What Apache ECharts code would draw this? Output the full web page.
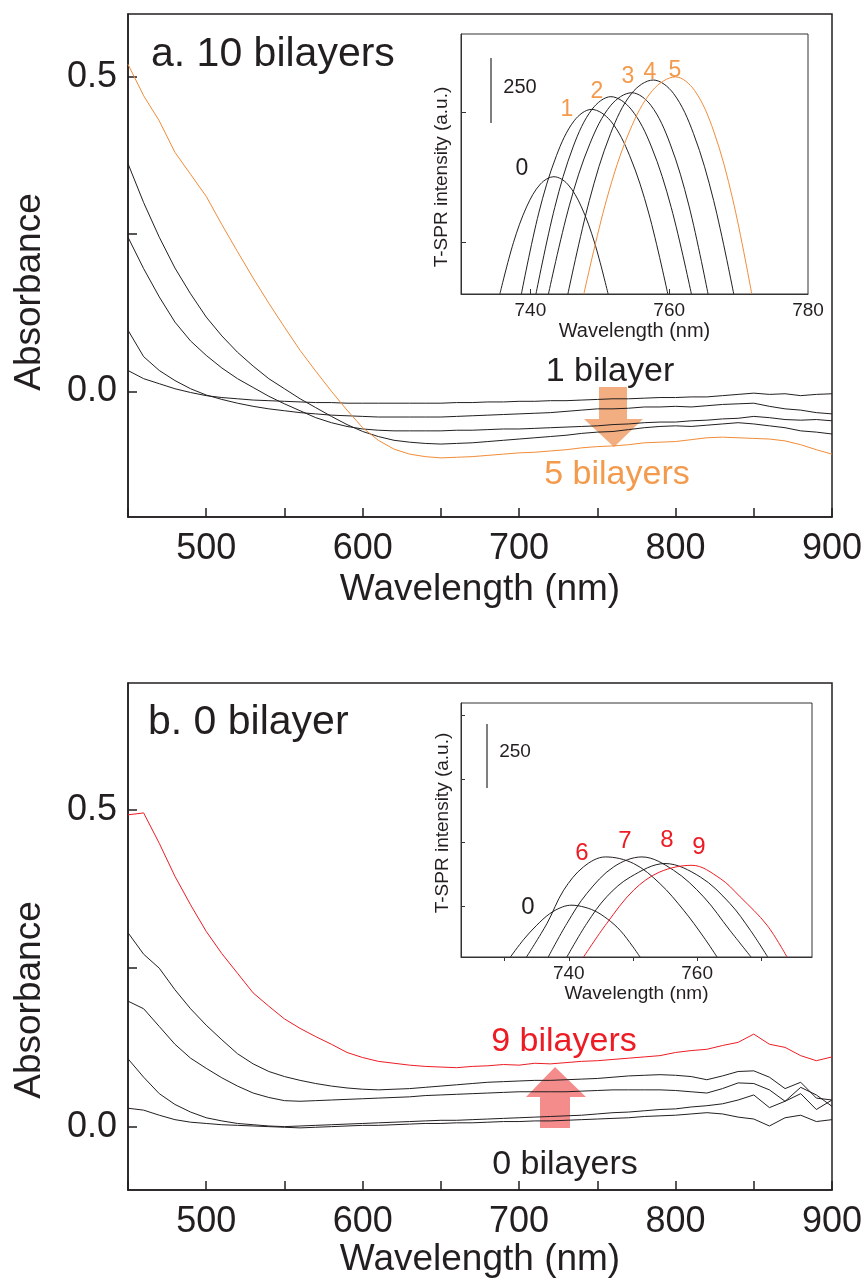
<!DOCTYPE html>
<html>
<head>
<meta charset="utf-8">
<script src="https://cdn.jsdelivr.net/npm/echarts@6/dist/echarts.min.js"></script>
<style>
html, body { margin: 0; padding: 0; background: #fff; }
#main { width: 867px; height: 1281px; }
</style>
</head>
<body>
<div id="main"></div>
<script>
// wavelength grid for the absorbance spectra (nm)
var wl = [450,460,470,480,490,500,510,520,530,540,550,560,570,580,590,600,610,620,630,640,650,
	660,670,680,690,700,710,720,730,740,750,760,770,780,790,800,810,820,830,840,850,860,870,880,890,900];

// panel a : absorbance, 1 -> 5 bilayers on top of 10 bilayers
var a1 = [0.033,0.02,0.012,0.004,-0.002,-0.007,-0.01,-0.012,-0.014,-0.015,-0.016,-0.017,-0.018,-0.018,-0.019,-0.019,
	-0.019,-0.019,-0.019,-0.019,-0.019,-0.018,-0.018,-0.017,-0.017,-0.016,-0.016,-0.015,-0.015,-0.014,-0.013,-0.012,
	-0.012,-0.011,-0.010,-0.010,-0.009,-0.009,-0.007,-0.005,-0.003,-0.005,-0.004,-0.007,-0.005,-0.004];
var a2 = [0.097,0.055,0.033,0.017,0.004,-0.006,-0.013,-0.019,-0.024,-0.028,-0.031,-0.034,-0.036,-0.038,-0.039,-0.04,
	-0.041,-0.041,-0.041,-0.041,-0.041,-0.04,-0.039,-0.038,-0.037,-0.036,-0.035,-0.034,-0.032,-0.03,-0.028,-0.028,
	-0.027,-0.025,-0.025,-0.024,-0.025,-0.023,-0.021,-0.02,-0.019,-0.024,-0.028,-0.03,-0.034,-0.036];
var a3 = [0.245,0.195,0.15,0.11,0.08,0.057,0.037,0.02,0.006,-0.008,-0.02,-0.031,-0.042,-0.05,-0.056,-0.06,
	-0.062,-0.063,-0.063,-0.063,-0.063,-0.062,-0.062,-0.061,-0.06,-0.06,-0.059,-0.058,-0.057,-0.056,-0.055,-0.053,
	-0.052,-0.05,-0.049,-0.049,-0.047,-0.046,-0.044,-0.043,-0.04,-0.042,-0.045,-0.046,-0.045,-0.047];
var a4 = [0.362,0.3,0.245,0.196,0.155,0.118,0.088,0.062,0.04,0.02,0.004,-0.012,-0.026,-0.04,-0.053,-0.064,
	-0.072,-0.078,-0.081,-0.083,-0.084,-0.083,-0.082,-0.08,-0.078,-0.076,-0.074,-0.072,-0.07,-0.067,-0.065,-0.064,
	-0.061,-0.058,-0.056,-0.055,-0.056,-0.054,-0.052,-0.05,-0.052,-0.055,-0.058,-0.063,-0.065,-0.068];
var a5 = [0.52,0.47,0.43,0.38,0.345,0.31,0.265,0.222,0.18,0.14,0.102,0.065,0.032,0.0,-0.03,-0.058,
	-0.078,-0.092,-0.1,-0.104,-0.106,-0.105,-0.104,-0.102,-0.1,-0.098,-0.097,-0.095,-0.093,-0.09,-0.088,-0.087,
	-0.085,-0.082,-0.081,-0.08,-0.077,-0.074,-0.073,-0.074,-0.075,-0.076,-0.079,-0.085,-0.093,-0.1];

// panel b : absorbance, 0 -> 9 bilayers on bare film
var b1 = [0.029,0.026,0.018,0.011,0.007,0.005,0.003,0.002,0.001,0,-0.001,-0.002,-0.001,0,0.001,0.002,
	0.002,0.003,0.004,0.005,0.005,0.006,0.006,0.007,0.008,0.008,0.009,0.009,0.01,0.011,0.012,0.013,
	0.014,0.016,0.017,0.018,0.02,0.022,0.02,0.015,0.012,0.001,0.014,0.018,0.008,0.011];
var b2 = [0.107,0.078,0.052,0.035,0.023,0.014,0.009,0.005,0.003,0.001,0,0.001,0.002,0.003,0.004,0.005,
	0.006,0.007,0.008,0.009,0.01,0.01,0.011,0.012,0.013,0.014,0.015,0.016,0.017,0.018,0.02,0.022,
	0.023,0.025,0.027,0.028,0.031,0.033,0.036,0.042,0.05,0.03,0.04,0.052,0.027,0.042];
var b3 = [0.198,0.186,0.158,0.13,0.108,0.092,0.077,0.064,0.053,0.046,0.041,0.04,0.041,0.042,0.043,0.044,
	0.045,0.046,0.047,0.049,0.05,0.051,0.052,0.053,0.054,0.055,0.055,0.055,0.055,0.056,0.057,0.058,
	0.058,0.058,0.058,0.057,0.055,0.053,0.06,0.069,0.068,0.058,0.04,0.062,0.05,0.032];
var b4 = [0.306,0.272,0.25,0.216,0.186,0.16,0.137,0.115,0.099,0.087,0.079,0.073,0.068,0.064,0.061,0.059,
	0.058,0.059,0.06,0.062,0.064,0.066,0.068,0.07,0.071,0.072,0.073,0.073,0.074,0.075,0.076,0.078,
	0.08,0.081,0.082,0.081,0.079,0.074,0.08,0.087,0.088,0.078,0.06,0.07,0.045,0.042];
var b9 = [0.492,0.495,0.447,0.395,0.35,0.308,0.273,0.242,0.211,0.19,0.17,0.155,0.142,0.13,0.117,0.109,
	0.103,0.1,0.097,0.095,0.094,0.093,0.095,0.096,0.098,0.097,0.1,0.099,0.101,0.103,0.104,0.106,
	0.108,0.11,0.112,0.117,0.12,0.122,0.128,0.133,0.146,0.13,0.125,0.112,0.104,0.11];

// inset a : T-SPR peaks [wavelength nm, intensity a.u.]
var ta0 = [[735.6,300],[737.55,497],[739.5,638],[741.45,723],[743.4,751],[745.35,723],[747.3,638],[749.25,497],[751.2,300]];
var ta1 = [[738.7,300],[741.2,611],[743.75,832],[746.3,966],[748.8,1010],[751.55,966],[754.3,832],[757.05,611],[759.8,300]];
var ta2 = [[740.8,300],[743.5,632],[746.2,869],[748.9,1011],[751.6,1059],[754.5,1011],[757.4,869],[760.3,632],[763.2,300]];
var ta3 = [[742.6,300],[745.6,639],[748.6,880],[751.6,1026],[754.6,1074],[757.35,1026],[760.1,880],[762.85,639],[765.6,300]];
var ta4 = [[745.4,300],[748.5,660],[751.55,917],[754.6,1072],[757.7,1123],[760.6,1072],[763.5,917],[766.4,660],[769.3,300]];
var ta5 = [[747.7,300],[751.0,665],[754.3,927],[757.6,1083],[760.9,1135],[763.65,1083],[766.4,927],[769.15,665],[771.9,300]];

// inset b : T-SPR peaks
var tb0 = [[730.9,50],[733,120],[735,175],[737,220],[739,247],[740.5,254],[742,249],[744,232],[746,200],[748,155],[750,90],[751.1,50]];
var tb6 = [[733.4,50],[736.6,182],[739.2,313],[742.3,405],[745.7,444],[750.1,418],[754.2,339],[757.9,234],[761,129],[763.1,50]];
var tb7 = [[736.8,50],[739.7,182],[742.8,300],[747.0,405],[751.4,444],[756.3,392],[761.0,287],[765.1,155],[768.4,50]];
var tb8 = [[739.7,50],[742.8,182],[745.9,287],[749.6,365],[755.0,418],[760.5,365],[765.1,261],[768.3,155],[771.0,50]];
var tb9 = [[742.3,50],[745.9,182],[750.1,313],[754.2,385],[759.2,411],[763.6,359],[766.7,287],[770.9,175],[774.0,50]];

// tick / label values
var mainTicksX = 50;
var absTicks = [0, 0.25, 0.5];
var absLabels = [0, 0.5];
var insetATicksX = [740, 760];
var insetALabelsX = [740, 760, 780];
var insetATicksY = [500, 1000];
var insetBTicksX = [730, 740, 750, 760, 770];
var insetBLabelsX = [740, 760];
var insetBTicksY = [250, 500, 750, 1000];

var FONT = '"Liberation Sans", Arial, Helvetica, sans-serif';
var INK = '#231f20';
var ORANGE = '#f28c38';
var ORANGE_TXT = '#f39a4c';
var RED = '#ed1c24';

function spec(arr) {
	return wl.map(function (w, i) { return [w, arr[i]]; });
}

function line(data, idx, color, smooth) {
	return {
		type: 'line',
		xAxisIndex: idx,
		yAxisIndex: idx,
		data: data,
		showSymbol: false,
		smooth: smooth || false,
		lineStyle: { color: color, width: 1 },
		silent: true,
		animation: false
	};
}

function mainX(idx, gap) {
	return {
		gridIndex: idx, type: 'value', min: 450, max: 900, interval: mainTicksX,
		axisLine: { onZero: false, lineStyle: { color: INK, width: 1.5 } },
		axisTick: { inside: true, length: 9, lineStyle: { color: INK, width: 1.5 } },
		axisLabel: {
			fontFamily: FONT, fontSize: 36, color: INK, margin: 14,
			formatter: function (v) { return v % 100 === 0 ? String(v) : ''; }
		},
		splitLine: { show: false },
		name: 'Wavelength (nm)', nameLocation: 'middle', nameGap: gap,
		nameTextStyle: { fontFamily: FONT, fontSize: 37, color: INK }
	};
}

function mainY(idx, min, max) {
	return {
		gridIndex: idx, type: 'value', min: min, max: max,
		axisLine: { onZero: false, lineStyle: { color: INK, width: 1.5 } },
		axisTick: { inside: true, length: 9, customValues: absTicks, lineStyle: { color: INK, width: 1.5 } },
		axisLabel: {
			fontFamily: FONT, fontSize: 36, color: INK, margin: 11, customValues: absLabels,
			formatter: function (v) { return v.toFixed(1); }
		},
		splitLine: { show: false }
	};
}

function txt(x, y, text, size, color, extra) {
	var o = {
		type: 'text', x: x, y: y, silent: true,
		style: { text: text, fontFamily: FONT, fontSize: size, fill: color || INK, align: 'center', verticalAlign: 'middle' }
	};
	if (extra) { for (var k in extra) o[k] = extra[k]; }
	return o;
}

function title(x, y, text) {
	return {
		type: 'text', x: x, y: y, silent: true,
		style: { text: text, fontFamily: FONT, fontSize: 41, fill: INK, align: 'left', verticalAlign: 'middle' }
	};
}

var myChart = echarts.init(document.getElementById('main'), null, { renderer: 'canvas' });

var option = {
	backgroundColor: '#fff',
	animation: false,
	grid: [
		{ left: 128, top: 14, width: 704, height: 503, show: true, borderColor: INK, borderWidth: 1.5 },
		{ left: 461, top: 34, width: 347, height: 260, show: true, borderColor: '#333', borderWidth: 1, backgroundColor: '#fff' },
		{ left: 128, top: 683, width: 704, height: 507, show: true, borderColor: INK, borderWidth: 1.5 },
		{ left: 461, top: 703, width: 351, height: 254, show: true, borderColor: '#333', borderWidth: 1, backgroundColor: '#fff' }
	],
	xAxis: [
		mainX(0, 54),
		{
			gridIndex: 1, type: 'value', min: 730, max: 780,
			axisLine: { onZero: false, lineStyle: { color: '#333', width: 1 } },
			axisTick: { inside: true, length: 5, customValues: insetATicksX, lineStyle: { color: '#333' } },
			axisLabel: { fontFamily: FONT, fontSize: 19, color: INK, margin: 7, customValues: insetALabelsX },
			splitLine: { show: false },
			name: 'Wavelength (nm)', nameLocation: 'middle', nameGap: 27,
			nameTextStyle: { fontFamily: FONT, fontSize: 20, color: INK }
		},
		mainX(2, 50),
		{
			gridIndex: 3, type: 'value', min: 723.2, max: 777.9,
			axisLine: { onZero: false, lineStyle: { color: '#333', width: 1 } },
			axisTick: { inside: false, length: 4, customValues: insetBTicksX, lineStyle: { color: '#333' } },
			axisLabel: { fontFamily: FONT, fontSize: 19, color: INK, margin: 7, customValues: insetBLabelsX },
			splitLine: { show: false },
			name: 'Wavelength (nm)', nameLocation: 'middle', nameGap: 27,
			nameTextStyle: { fontFamily: FONT, fontSize: 19, color: INK }
		}
	],
	yAxis: [
		mainY(0, -0.2, 0.6),
		{
			gridIndex: 1, type: 'value', min: 300, max: 1300,
			axisLine: { onZero: false, lineStyle: { color: '#333', width: 1 } },
			axisTick: { inside: true, length: 5, customValues: insetATicksY, lineStyle: { color: '#333' } },
			axisLabel: { show: false },
			splitLine: { show: false }
		},
		mainY(2, -0.1, 0.7),
		{
			gridIndex: 3, type: 'value', min: 50, max: 1050,
			axisLine: { onZero: false, lineStyle: { color: '#333', width: 1 } },
			axisTick: { inside: true, length: 4, customValues: insetBTicksY, lineStyle: { color: '#333' } },
			axisLabel: { show: false },
			splitLine: { show: false }
		}
	],
	series: [
		line(spec(a1), 0, INK), line(spec(a2), 0, INK), line(spec(a3), 0, INK), line(spec(a4), 0, INK),
		line(spec(a5), 0, ORANGE),
		line(ta0, 1, INK, 0.35), line(ta1, 1, INK, 0.35), line(ta2, 1, INK, 0.35), line(ta3, 1, INK, 0.35),
		line(ta4, 1, INK, 0.35), line(ta5, 1, ORANGE, 0.35),
		line(spec(b1), 2, INK), line(spec(b2), 2, INK), line(spec(b3), 2, INK), line(spec(b4), 2, INK),
		line(spec(b9), 2, RED),
		line(tb0, 3, INK, 0.35), line(tb6, 3, INK, 0.35), line(tb7, 3, INK, 0.35), line(tb8, 3, INK, 0.35),
		line(tb9, 3, RED, 0.35)
	],
	graphic: [
		// panel a
		title(151, 55, 'a. 10 bilayers'),
		txt(30, 292, 'Absorbance', 37, INK, { rotation: Math.PI / 2 }),
		{
			type: 'polygon', silent: true,
			shape: { points: [[599, 387], [627, 387], [627, 419], [643, 419], [614, 447], [584, 419], [599, 419]] },
			style: { fill: 'rgba(236,135,70,0.68)' }
		},
		txt(610, 372, '1 bilayer', 34, INK),
		txt(617, 475, '5 bilayers', 34, ORANGE_TXT),
		// inset a
		txt(442, 177, 'T-SPR intensity (a.u.)', 19, INK, { rotation: Math.PI / 2 }),
		{ type: 'line', silent: true, shape: { x1: 491, y1: 58, x2: 491, y2: 123 }, style: { stroke: '#555', lineWidth: 1.5 } },
		txt(520, 87, '250', 20, INK),
		txt(522, 169, '0', 23, INK),
		txt(567, 110, '1', 23, ORANGE_TXT),
		txt(597, 92, '2', 23, ORANGE_TXT),
		txt(628, 77, '3', 23, ORANGE_TXT),
		txt(650, 73, '4', 23, ORANGE_TXT),
		txt(675, 71, '5', 23, ORANGE_TXT),
		// panel b
		title(148, 723, 'b. 0 bilayer'),
		txt(30, 1000, 'Absorbance', 37, INK, { rotation: Math.PI / 2 }),
		{
			type: 'polygon', silent: true,
			shape: { points: [[540, 1128], [570, 1128], [570, 1097], [586, 1097], [555, 1067], [526, 1097], [540, 1097]] },
			style: { fill: 'rgba(238,70,70,0.62)' }
		},
		txt(564, 1042, '9 bilayers', 34, RED),
		txt(565, 1165, '0 bilayers', 34, INK),
		// inset b
		txt(443, 823, 'T-SPR intensity (a.u.)', 19, INK, { rotation: Math.PI / 2 }),
		{ type: 'line', silent: true, shape: { x1: 487, y1: 724, x2: 487, y2: 788 }, style: { stroke: '#555', lineWidth: 1.5 } },
		txt(515, 752, '250', 19, INK),
		txt(528, 907, '0', 24, INK),
		txt(582, 853, '6', 24, RED),
		txt(625, 841, '7', 24, RED),
		txt(667, 840, '8', 24, RED),
		txt(699, 847, '9', 24, RED)
	]
};
myChart.setOption(option);
</script>
</body>
</html>
